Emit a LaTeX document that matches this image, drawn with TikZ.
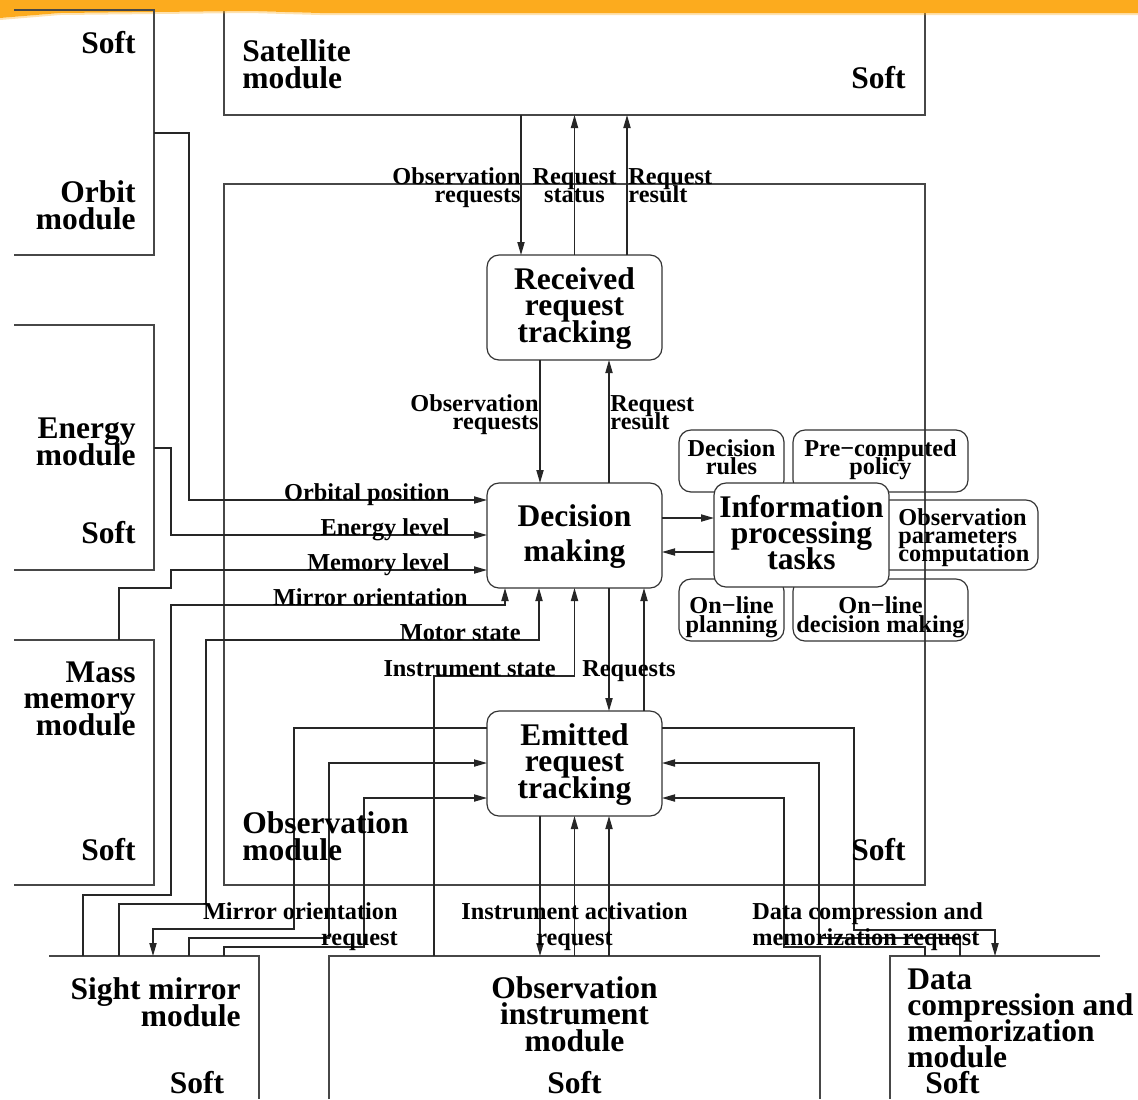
\documentclass[tikz,border=0pt]{standalone}
\usepackage{fontspec}
\setmainfont{Liberation Serif}
\usetikzlibrary{arrows.meta,fit}

% bold Times-like faces with fixed, tight line spacing
\newcommand\fontbig[1][13.25pt]{\fontsize{15.75pt}{#1}\selectfont\bfseries\lineskiplimit=-40pt\lineskip=0pt\relax}
\newcommand\fontsml[1][9pt]{\fontsize{12.15pt}{#1}\selectfont\bfseries\lineskiplimit=-40pt\lineskip=0pt\relax}

\definecolor{bandorange}{RGB}{252,171,30}

\tikzset{
  wire/.style={draw=black!85, line width=0.62pt},
  arr/.style={wire, -{Triangle[length=6.5pt,width=3.6pt]}},
  modline/.style={draw=black!72, line width=0.7pt},
  region/.style={inner sep=0pt, outer sep=0pt},
  task/.style={draw=black!80, line width=0.6pt, rounded corners=6pt, inner sep=0pt, outer sep=0pt},
  big/.style={font=\fontbig, inner sep=0pt},
  sml/.style={font=\fontsml, inner sep=0pt},
}

\begin{document}
\begin{tikzpicture}[x=0.5pt,y=-0.5pt]
\useasboundingbox (0,0) rectangle (1138,1099);

% routing columns and rows
\foreach \v in {83,119,153,171,189,206,224,294,329,364,434,505,521,540,609,627,644,784,819,854,925,960,995}
  \coordinate (x\v) at (\v,0);
\coordinate (x574) at (574.5,0);
\coordinate (x539) at (539,0);
\foreach \v in {133,448,500,518,535,552,570,588,605,640,676,728,763,798,895,904,929,930,938,947}
  \coordinate (y\v) at (0,\v);

% ---------- module regions ----------
\node[region, fit={(224,2) (925,115)}] (sat) {};
\draw[modline] (sat.north west) rectangle (sat.south east);

% brush stroke along the top
\fill[bandorange] (0,0) -- (1138,0) -- (1138,13) -- (320,13) -- (250,11) -- (60,13) -- (0,18) -- cycle;
\fill[bandorange, opacity=0.35] (0,18) -- (60,13) -- (250,11) -- (320,13) -- (1138,13) -- (1138,15) -- (320,15) -- (250,13) -- (60,15) -- (0,20) -- cycle;

\node[region, fit={(14,10) (154,255)}] (orbit) {};
\draw[modline] (orbit.north west) -- (orbit.north east) -- (orbit.south east) -- (orbit.south west);
\node[region, fit={(14,325) (154,570)}] (energy) {};
\draw[modline] (energy.north west) -- (energy.north east) -- (energy.south east) -- (energy.south west);
\node[region, fit={(14,640) (154,885)}] (mass) {};
\draw[modline] (mass.north west) -- (mass.north east) -- (mass.south east) -- (mass.south west);

\node[region, fit={(224,184) (925,885)}] (obsmod) {};
\draw[modline] (obsmod.north west) rectangle (obsmod.south east);

\node[region, fit={(49,956) (259,1099)}] (sight) {};
\draw[modline] (sight.north west) -- (sight.north east) -- (sight.south east);
\node[region, fit={(329,956) (820,1099)}] (instr) {};
\draw[modline] (instr.south west) -- (instr.north west) -- (instr.north east) -- (instr.south east);
\node[region, fit={(890,956) (1100,1099)}] (dc) {};
\draw[modline] (dc.north east) -- (dc.north west) -- (dc.south west);

% ---------- task boxes ----------
\node[task, fit={(679,430) (784,492)}] (rules) {};
\node[task, fit={(793,430) (968,492)}] (policy) {};
\node[task, fit={(860,500) (1038,570)}] (params) {};
\node[task, fit={(679,579) (784,641)}] (plan) {};
\node[task, fit={(793,579) (968,641)}] (online) {};
\node[task, fill=white, fit={(714,483) (889,587)}] (info) {};

\node[task, fill=white, fit={(487,255) (662,360)}] (recv) {};
\node[task, fill=white, fit={(487,483) (662,588)}] (dec) {};
\node[task, fill=white, fit={(487,711) (662,816)}] (emit) {};

% ---------- connectors ----------
\draw[arr] (sat.south -| x521) -- (recv.north -| x521);
\draw[arr] (recv.north -| x574) -- (sat.south -| x574);
\draw[arr] (recv.north -| x627) -- (sat.south -| x627);
\draw[arr] (recv.south -| x540) -- (dec.north -| x540);
\draw[arr] (dec.north -| x609) -- (recv.south -| x609);
\draw[arr] (dec.east |- y518) -- (info.west |- y518);
\draw[arr] (info.west |- y552) -- (dec.east |- y552);

\draw[arr] (orbit.east |- y133) -| (x189 |- y500) -- (dec.west |- y500);
\draw[arr] (energy.east |- y448) -| (x171 |- y535) -- (dec.west |- y535);
\draw[arr] (mass.north -| x119) |- (x171 |- y588) |- (dec.west |- y570);
\draw[arr] (sight.north -| x83) |- (x171 |- y895) |- (x505 |- y605) -- (dec.south -| x505);
\draw[arr] (sight.north -| x119) |- (x206 |- y904) |- (x539 |- y640) -- (dec.south -| x539);
\draw[arr] (instr.north -| x434) |- (x574 |- y676) -- (dec.south -| x574);

\draw[arr] (dec.south -| x609) -- (emit.north -| x609);
\draw[arr] (emit.north -| x644) -- (dec.south -| x644);

\draw[arr] (emit.west |- y728) -| (x294 |- y929) -| (sight.north -| x153);
\draw[arr] (sight.north -| x189) |- (x329 |- y938) |- (emit.west |- y763);
\draw[arr] (sight.north -| x224) |- (x364 |- y947) |- (emit.west |- y798);

\draw[arr] (emit.south -| x540) -- (instr.north -| x540);
\draw[arr] (instr.north -| x574) -- (emit.south -| x574);
\draw[arr] (instr.north -| x609) -- (emit.south -| x609);

\draw[arr] (emit.east |- y728) -| (x854 |- y930) -| (dc.north -| x995);
\draw[arr] (dc.north -| x960) |- (x819 |- y938) |- (emit.east |- y763);
\draw[arr] (dc.north -| x925) |- (x784 |- y947) |- (emit.east |- y798);

% ---------- module texts (multi-line nodes sit on their last baseline) ----------
\node[big, align=left, anchor=base west] (sat-t) at (242,88) {Satellite\\module};
\node[big, anchor=base east] (sat-s) at (906,88) {Soft};
\node[big, anchor=base east] (orbit-s) at (136,53) {Soft};
\node[big, align=right, anchor=base east] (orbit-t) at (136,229) {Orbit\\module};
\node[big, align=right, anchor=base east] (energy-t) at (136,465) {Energy\\module};
\node[big, anchor=base east] (energy-s) at (136,543) {Soft};
\node[big, align=right, anchor=base east] (mass-t) at (136,735) {Mass\\memory\\module};
\node[big, anchor=base east] (mass-s) at (136,860) {Soft};
\node[big, align=left, anchor=base west] (obsmod-t) at (242,860) {Observation\\module};
\node[big, anchor=base east] (obsmod-s) at (906,860) {Soft};
\node[big, align=right, anchor=base east] (sight-t) at (241,1026) {Sight mirror\\module};
\node[big, anchor=base] (sight-s) at (197,1093) {Soft};
\node[big, align=center, anchor=base] (instr-t) at (574.5,1051) {Observation\\instrument\\module};
\node[big, anchor=base] (instr-s) at (574.5,1093) {Soft};
\node[big, font={\fontbig[12.85pt]}, align=left, anchor=base west] (dc-t) at (907,1067) {Data\\compression and\\memorization\\module};
\node[big, anchor=base west] (dc-s) at (925,1093) {Soft};

% ---------- task texts ----------
\node[big, align=center, anchor=base] (recv-t) at (574.5,342) {Received\\request\\tracking};
\node[big, font={\fontbig[17.25pt]}, align=center, anchor=base] (dec-t) at (574.5,561) {Decision\\making};
\node[big, align=center, anchor=base] (emit-t) at (574.5,798) {Emitted\\request\\tracking};
\node[big, font={\fontbig[13pt]}, align=center, anchor=base] (info-t) at (801.5,569) {Information\\processing\\tasks};
\node[sml, align=center, anchor=base] (rules-t) at (731.5,474) {Decision\\rules};
\node[sml, align=center, anchor=base] (policy-t) at (880.5,474) {Pre−computed\\policy};
\node[sml, align=left, anchor=base west] (params-t) at (898,561) {Observation\\parameters\\computation};
\node[sml, font={\fontsml[9.5pt]}, align=center, anchor=base] (plan-t) at (731.5,632) {On−line\\planning};
\node[sml, font={\fontsml[9.5pt]}, align=center, anchor=base] (online-t) at (880.5,632) {On−line\\decision making};

% ---------- connector labels ----------
\node[sml, align=right, anchor=base east] at (521,202) {Observation\\requests};
\node[sml, align=center, anchor=base] at (574.5,202) {Request\\status};
\node[sml, align=left, anchor=base west] at (628,202) {Request\\result};
\node[sml, align=right, anchor=base east] at (539,429) {Observation\\requests};
\node[sml, align=left, anchor=base west] at (610,429) {Request\\result};
\node[sml, anchor=base east] at (450,500) {Orbital position};
\node[sml, anchor=base east] at (450,535) {Energy level};
\node[sml, anchor=base east] at (450,570) {Memory level};
\node[sml, anchor=base east] at (468,605) {Mirror orientation};
\node[sml, anchor=base east] at (521,640) {Motor state};
\node[sml, anchor=base east] at (556,676) {Instrument state};
\node[sml, anchor=base west] at (582,676) {Requests};
\node[sml, font={\fontsml[12.75pt]}, align=right, anchor=base east] at (398,945) {Mirror orientation\\request};
\node[sml, font={\fontsml[12.75pt]}, align=center, anchor=base] at (574.5,945) {Instrument activation\\request};
\node[sml, font={\fontsml[12.75pt]}, align=left, anchor=base west] at (752,945) {Data compression and\\memorization request};
\end{tikzpicture}
\end{document}
